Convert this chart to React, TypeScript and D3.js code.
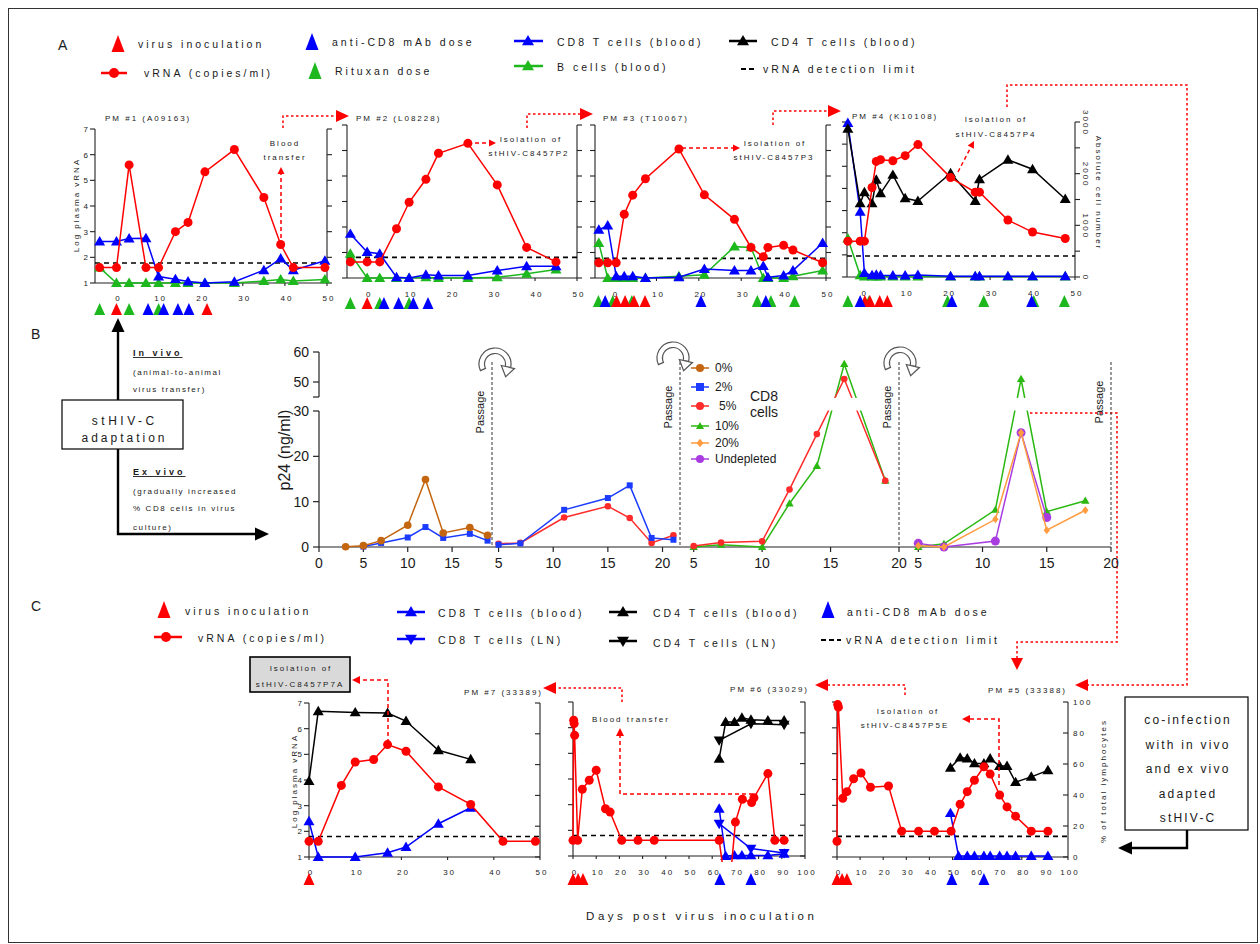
import React from "react";
import * as d3 from "d3";

const FONT = "'Liberation Sans', Arial, Helvetica, sans-serif";
const RED = "#ff0000";
const BLUE = "#0000ff";
const GREEN = "#1db81d";
const INK = "#1a1a1a";

type Pt = [number, number];
type Shape = "circle" | "tri" | "triDown" | "square" | "diamond";
const zip = (xs: number[], ys: number[]): Pt[] => xs.map((x, i) => [x, ys[i]] as Pt);

// ---------------- Panel A: in vivo passage (PM #1 - #4) ----------------
const aDayTicks = [0, 10, 20, 30, 40, 50];
const logTicks7 = [1, 2, 3, 4, 5, 6, 7];
const logTicks8 = [1, 2, 3, 4, 5, 6, 7, 8];
const cellTicks = [0, 500, 1000, 1500, 2000, 2500, 3000];
const cellLabels = [0, 1000, 2000, 3000];

const pm1Days = [-4, 0, 3, 7, 10, 14, 17, 21, 28, 35, 39, 42, 49.5];
const pm1Vrna = [1.6, 1.6, 5.6, 1.6, 1.6, 3.0, 3.36, 5.33, 6.2, 4.33, 2.5, 1.6, 1.6];
const pm1Cd8 = [2.62, 2.62, 2.73, 2.74, 1.25, 1.15, 1.06, 1.0, 1.05, 1.5, 1.95, 1.5, 1.87];
const pm1Bcell = [1.6, 1.0, 1.0, 1.0, 1.0, 1.0, 1.0, 1.0, 1.0, 1.08, 1.14, 1.08, 1.14];
const pm1Inoc = [0, 21.5];
const pm1Cd8Dose = [7.5, 11.2, 14.6, 17.2];
const pm1Rituxan = [-4, 3, 10];

const pm2Days = [-4, 0, 3, 7, 10, 14, 17, 24, 31, 38, 45];
const pm2Vrna = [1.63, 1.63, 1.63, 2.93, 3.97, 4.87, 5.89, 6.28, 4.65, 2.2, 1.63];
const pm2Cd8 = [2.73, 2.02, 1.95, 1.03, 1.0, 1.13, 1.1, 1.1, 1.29, 1.46, 1.46];
const pm2Bcell = [1.95, 1, 1, 1, 1, 1.03, 1, 1, 1.03, 1.17, 1.33];
const pm2Inoc = [0];
const pm2Cd8Dose = [4, 7.5, 11, 14.5];
const pm2Rituxan = [-4, 3, 10];

const pm3Days = [-3.6, -1.5, 0.5, 2.4, 4.4, 7.4, 15.3, 21.3, 28.4, 32.3, 35.2, 36.3, 40, 42.2, 49.2];
const pm3Vrna = [1.6, 1.6, 1.6, 3.5, 4.25, 4.89, 6.06, 4.26, 3.3, 2.2, 1.83, 2.2, 2.28, 2.1, 1.6];
const pm3Cd8 = [2.89, 3.06, 1.07, 1.07, 1.07, 1.0, 1.03, 1.35, 1.29, 1.29, 1.47, 1.03, 1.1, 1.29, 2.37];
const pm3Bcell = [2.37, 1, 1, 1, 1, 1, 1.07, 1.13, 2.23, 2.2, 1, 1, 1, 1.07, 1.29];
const pm3Inoc = [0.6, 2.6, 4.7, 7.3];
const pm3Cd8Dose = [-2.1, 20.5, 35.8];
const pm3Rituxan = [-3.7, -0.3, 4.2, 33.8, 37, 42.6];

const pm4Days = [-3.5, -0.6, 0.4, 2.2, 3.2, 4.2, 7.1, 10, 13, 20.7, 26.5, 27.5, 34.2, 40, 47.7];
const pm4Vrna = [2.62, 2.62, 2.62, 5.04, 6.22, 6.3, 6.25, 6.48, 6.98, 5.49, 4.83, 4.83, 3.57, 3.03, 2.74];
const pm4Cd4 = [2870, 1425, 1640, 1425, 1880, 1620, 1976, 1523, 1470, 2008, 1470, 1892, 2268, 2086, 1510];
const pm4Cd8 = [2980, 1263, 78, 32, 45, 32, 30, 30, 40, 15, 15, 15, 15, 15, 15];
const pm4Bcell = [745, 32, 10, 10, 10, 10, 10, 10, 10, 10, 10, 10, 10, 10, 10];
const pm4Inoc = [0.5, 1.7, 4, 5.8];
const pm4Cd8Dose = [-0.6, 21, 39.8];
const pm4Rituxan = [-3.5, 1.5, 20, 28.5, 40.3, 47.5];

// ---------------- Panel B: ex vivo passage (p24, ng/ml) ----------------
const p24LowTicks = [0, 10, 20, 30];
const p24HighTicks = [50, 60];
const bFirstTicks = [0, 5, 10, 15];
const bTicks = [5, 10, 15, 20];

const b1Days = [3, 5, 7, 10, 12, 14, 17, 19];
const b1Cd8Pct0 = [0.07, 0.3, 1.4, 4.8, 14.9, 3.1, 4.3, 2.6];
const b1DaysPct2 = [5, 7, 10, 12, 14, 17, 19];
const b1Cd8Pct2 = [0.1, 0.9, 2.1, 4.4, 2.0, 2.9, 1.4];

const b2Days = [5, 7, 11, 15, 17, 19, 21];
const b2Cd8Pct2 = [0.5, 0.8, 8.2, 10.8, 13.6, 2.0, 1.6];
const b2Cd8Pct5 = [0.7, 0.9, 6.5, 9.0, 6.4, 0.9, 2.6];

const b3Days = [5, 7, 10, 12, 14, 16, 19];
const b3Cd8Pct5 = [0.2, 1.0, 1.25, 12.7, 24.9, 51, 14.6];
const b3Cd8Pct10 = [0, 0.5, 0, 9.6, 17.9, 56, 14.6];

const b4Days = [5, 7, 11, 13, 15, 18];
const b4Cd8Pct10 = [0, 0.7, 8.2, 51, 7.8, 10.2];
const b4Cd8Pct20 = [0.3, 0, 6.1, 25.2, 3.7, 8.1];
const b4DaysUndepleted = [5, 7, 11, 13, 15];
const b4Undepleted = [0.8, 0, 1.3, 25.2, 6.5];

const bLegendLabels = ["0%", "2%", "5%", "10%", "20%", "Undepleted"];

// ---------------- Panel C: co-infection (PM #7, #6, #5) ----------------
const c50Ticks = [0, 10, 20, 30, 40, 50];
const c100Ticks = [0, 10, 20, 30, 40, 50, 60, 70, 80, 90, 100];
const pctTicks = [0, 20, 40, 60, 80, 100];

const pm7Days = [0, 2, 7, 10, 14, 17, 21, 28, 35, 42, 49];
const pm7Vrna = [1.61, 1.61, 3.79, 4.7, 4.8, 5.38, 5.12, 3.73, 3.05, 1.61, 1.61];
const pm7CellDays = [0, 2, 10, 17, 21, 28, 35];
const pm7Cd4 = [49.4, 94.6, 93.9, 93.5, 88.3, 69.3, 63.4];
const pm7Cd8 = [23.2, 0, 0, 2.8, 6.5, 21.6, 32];
const pm7Inoc = [0];

const pm6Days = [0, 0.3, 0.5, 0.7, 2, 4, 7, 10, 14, 16, 21, 28, 35, 63, 65, 68, 70, 73, 77, 78, 84, 87, 91];
const pm6Vrna = [1.61, 6.29, 6.16, 5.7, 1.61, 3.6, 3.95, 4.34, 2.84, 2.71, 1.61, 1.61, 1.61, 1.61, 0.3, 0.3, 2.32, 3.21, 3.08, 3.27, 4.21, 1.61, 1.61];
const pm6BloodDays = [63, 65.8, 69.6, 72.8, 76.7, 84, 91];
const pm6Cd4Blood = [63.2, 87, 87, 89.8, 88.5, 88, 88];
const pm6Cd8Blood = [30.7, 0, 0.4, 0.4, 0.4, 0.4, 1.5];
const pm6LnDays = [63, 76.7, 91];
const pm6Cd4Ln = [75.1, 85.9, 85.3];
const pm6Cd8Ln = [21, 4.8, 1.9];
const pm6Inoc = [0, 2.2, 4.3];
const pm6Cd8Dose = [63.3, 76.7];

const pm5Days = [0, 0.3, 0.6, 2.5, 4.3, 7.2, 10.4, 14.5, 22.3, 28, 35.3, 42.2, 49.4, 53.3, 56.4, 59.5, 63.6, 66.3, 70.4, 73.6, 77.3, 84.1, 91.3];
const pm5Vrna = [1.61, 6.9, 6.8, 3.27, 3.53, 4.03, 4.25, 3.7, 3.75, 2.0, 2.0, 2.0, 2.0, 3.04, 3.53, 3.97, 4.49, 4.21, 3.4, 2.94, 2.58, 2.0, 2.0];
const pm5Cd4Days = [49.1, 53.3, 56.4, 59.5, 63.6, 66.3, 70.4, 73.6, 77.3, 84.1, 91.3];
const pm5Cd4 = [57.6, 64.1, 63.5, 60.4, 60.4, 63.5, 58.7, 58.7, 48.3, 51.7, 55.9];
const pm5Cd8Days = [49.1, 52.6, 56.4, 59.5, 63.6, 66.3, 70.4, 73.6, 77.3, 84.1, 91.3];
const pm5Cd8 = [28.3, 0.65, 0.65, 0.65, 0.65, 0.65, 0.65, 0.65, 0.65, 0.65, 0.65];
const pm5Inoc = [0, 2.2, 4.3];
const pm5Cd8Dose = [49.7, 63.6];

// ---------------- helpers ----------------
function markerPath(shape: Shape, s: number): string {
  switch (shape) {
    case "tri":
      return `M0,${-s}L${s},${s * 0.72}L${-s},${s * 0.72}Z`;
    case "triDown":
      return `M0,${s}L${s},${-s * 0.72}L${-s},${-s * 0.72}Z`;
    case "square":
      return `M${-s},${-s}H${s}V${s}H${-s}Z`;
    case "diamond":
      return `M0,${-s * 1.25}L${s},0L0,${s * 1.25}L${-s},0Z`;
    default:
      return d3.symbol(d3.symbolCircle, Math.PI * s * s)() as string;
  }
}

function Mark({ shape, x, y, s, fill }: { shape: Shape; x: number; y: number; s: number; fill: string }) {
  return <path transform={`translate(${x},${y})`} d={markerPath(shape, s)} fill={fill} />;
}

interface TxtProps {
  x: number;
  y: number;
  size?: number;
  ls?: number;
  anchor?: "start" | "middle" | "end";
  rot?: number;
  bold?: boolean;
  under?: boolean;
  fill?: string;
  children: React.ReactNode;
}

function Txt({ x, y, size = 8, ls = 2, anchor = "start", rot, bold, under, fill = INK, children }: TxtProps) {
  const dx = anchor === "middle" ? ls / 2 : anchor === "end" ? ls : 0;
  return (
    <text
      x={x}
      y={y}
      dx={dx}
      fontSize={size}
      textAnchor={anchor}
      fill={fill}
      fontWeight={bold ? "bold" : "normal"}
      transform={rot ? `rotate(${rot},${x},${y})` : undefined}
      style={{ letterSpacing: `${ls}px`, textDecoration: under ? "underline" : undefined }}
    >
      {children}
    </text>
  );
}

function Arrow({
  pts,
  color = RED,
  dash,
  w = 1.5,
  len = 8,
  half = 4,
}: {
  pts: Pt[];
  color?: string;
  dash?: string;
  w?: number;
  len?: number;
  half?: number;
}) {
  const n = pts.length;
  const [tx, ty] = pts[n - 1];
  const [px, py] = pts[n - 2];
  const a = Math.atan2(ty - py, tx - px);
  const bx = tx - Math.cos(a) * len;
  const by = ty - Math.sin(a) * len;
  const body = [...pts.slice(0, n - 1), [bx, by]];
  const nx = -Math.sin(a) * half;
  const ny = Math.cos(a) * half;
  return (
    <g>
      <polyline
        points={body.map((p) => p.join(",")).join(" ")}
        fill="none"
        stroke={color}
        strokeWidth={w}
        strokeDasharray={dash}
      />
      <path d={`M${tx},${ty}L${bx + nx},${by + ny}L${bx - nx},${by - ny}Z`} fill={color} />
    </g>
  );
}

type Scale = d3.ScaleLinear<number, number>;

function Series({
  pts,
  sx,
  sy,
  color,
  shape,
  s,
  w = 1.5,
}: {
  pts: Pt[];
  sx: Scale;
  sy: Scale;
  color: string;
  shape: Shape;
  s: number;
  w?: number;
}) {
  const line = d3
    .line<Pt>()
    .x((d) => sx(d[0]))
    .y((d) => sy(d[1]));
  return (
    <g>
      <path d={line(pts) ?? ""} fill="none" stroke={color} strokeWidth={w} />
      {pts.map((p, i) => (
        <Mark key={i} shape={shape} x={sx(p[0])} y={sy(p[1])} s={s} fill={color} />
      ))}
    </g>
  );
}

function DoseTri({ x, y, color }: { x: number; y: number; color: string }) {
  return <path d={`M${x},${y - 7}L${x + 5.5},${y + 5}L${x - 5.5},${y + 5}Z`} fill={color} />;
}

function BigTri({ x, y, color }: { x: number; y: number; color: string }) {
  return <path d={`M${x},${y - 9}L${x + 6.5},${y + 8}L${x - 6.5},${y + 8}Z`} fill={color} />;
}

interface SeriesDef {
  pts: Pt[];
  color: string;
  shape: Shape;
  right?: boolean;
  s?: number;
}
interface DoseDef {
  days: number[];
  color: string;
}
interface SubDef {
  id: string;
  box: [number, number, number, number];
  xDomain: [number, number];
  yDomain: [number, number];
  rDomain: [number, number];
  xTicks: number[];
  yTicks: number[];
  rTicks: number[];
  yLabels: boolean;
  rLabels: number[];
  rRotate: boolean;
  rInward: boolean;
  limit: number;
  series: SeriesDef[];
  doses: DoseDef[];
  doseY: number;
  labelY: number;
}

function Sub({ d }: { d: SubDef }) {
  const [left, top, right, bottom] = d.box;
  const sx = d3.scaleLinear().domain(d.xDomain).range([left, right]);
  const sy = d3.scaleLinear().domain(d.yDomain).range([bottom, top]);
  const sr = d3.scaleLinear().domain(d.rDomain).range([bottom, top]);
  const rt = d.rInward ? -5 : 5;
  const ax = { stroke: "#222", strokeWidth: 1.1 };
  return (
    <g>
      <defs>
        <clipPath id={`clip-${d.id}`}>
          <rect x={left - 8} y={top - 10} width={right - left + 16} height={bottom - top + 16} />
        </clipPath>
      </defs>
      <line x1={left} x2={left} y1={top} y2={bottom} {...ax} />
      {d.yTicks.map((t) => (
        <line key={`yt${t}`} x1={left - 5} x2={left} y1={sy(t)} y2={sy(t)} {...ax} />
      ))}
      {d.yLabels &&
        d.yTicks.map((t) => (
          <Txt key={`yl${t}`} x={left - 7} y={sy(t) + 3} anchor="end">
            {t}
          </Txt>
        ))}
      <line x1={right} x2={right} y1={top} y2={bottom} {...ax} />
      {d.rTicks.map((t) => (
        <line key={`rt${t}`} x1={right} x2={right + rt} y1={sr(t)} y2={sr(t)} {...ax} />
      ))}
      {d.rLabels.map((t) =>
        d.rRotate ? (
          <Txt key={`rl${t}`} x={right + 8} y={sr(t)} anchor="middle" rot={90}>
            {t}
          </Txt>
        ) : (
          <Txt key={`rl${t}`} x={right + 5} y={sr(t) + 3}>
            {t}
          </Txt>
        )
      )}
      <line x1={left} x2={right} y1={bottom} y2={bottom} {...ax} />
      {d.xTicks.map((t) => (
        <g key={`xt${t}`}>
          <line x1={sx(t)} x2={sx(t)} y1={bottom} y2={bottom + 3} {...ax} />
          <Txt x={sx(t) + 1} y={d.labelY} anchor="middle">
            {t}
          </Txt>
        </g>
      ))}
      <line
        x1={left}
        x2={right}
        y1={sy(d.limit)}
        y2={sy(d.limit)}
        stroke="#000"
        strokeWidth={1.6}
        strokeDasharray="5,4"
      />
      <g clipPath={`url(#clip-${d.id})`}>
        {d.series.map((s, i) => (
          <Series
            key={i}
            pts={s.pts}
            sx={sx}
            sy={s.right ? sr : sy}
            color={s.color}
            shape={s.shape}
            s={s.s ?? (s.shape === "circle" ? 4.5 : 5.5)}
          />
        ))}
      </g>
      {d.doses.map((g, gi) =>
        g.days.map((day, i) => <DoseTri key={`d${gi}-${i}`} x={sx(day)} y={d.doseY} color={g.color} />)
      )}
    </g>
  );
}

const subsA: SubDef[] = [
  {
    id: "pm1",
    box: [95, 129, 327, 283],
    xDomain: [-5.1, 50],
    yDomain: [1, 7],
    rDomain: [1, 7],
    xTicks: aDayTicks,
    yTicks: logTicks7,
    rTicks: logTicks7,
    yLabels: true,
    rLabels: [],
    rRotate: false,
    rInward: false,
    limit: 1.78,
    series: [
      { pts: zip(pm1Days, pm1Bcell), color: GREEN, shape: "tri" },
      { pts: zip(pm1Days, pm1Cd8), color: BLUE, shape: "tri" },
      { pts: zip(pm1Days, pm1Vrna), color: RED, shape: "circle" },
    ],
    doses: [
      { days: pm1Rituxan, color: GREEN },
      { days: pm1Inoc, color: RED },
      { days: pm1Cd8Dose, color: BLUE },
    ],
    doseY: 310,
    labelY: 301,
  },
  {
    id: "pm2",
    box: [347, 125, 577, 278],
    xDomain: [-4.8, 50],
    yDomain: [1, 7],
    rDomain: [1, 7],
    xTicks: aDayTicks,
    yTicks: logTicks7,
    rTicks: logTicks7,
    yLabels: false,
    rLabels: [],
    rRotate: false,
    rInward: false,
    limit: 1.81,
    series: [
      { pts: zip(pm2Days, pm2Bcell), color: GREEN, shape: "tri" },
      { pts: zip(pm2Days, pm2Cd8), color: BLUE, shape: "tri" },
      { pts: zip(pm2Days, pm2Vrna), color: RED, shape: "circle" },
    ],
    doses: [
      { days: pm2Rituxan, color: GREEN },
      { days: pm2Inoc, color: RED },
      { days: pm2Cd8Dose, color: BLUE },
    ],
    doseY: 304,
    labelY: 297,
  },
  {
    id: "pm3",
    box: [595, 125, 826, 278],
    xDomain: [-4.5, 50],
    yDomain: [1, 7],
    rDomain: [1, 7],
    xTicks: aDayTicks,
    yTicks: logTicks7,
    rTicks: logTicks7,
    yLabels: false,
    rLabels: [],
    rRotate: false,
    rInward: false,
    limit: 1.77,
    series: [
      { pts: zip(pm3Days, pm3Bcell), color: GREEN, shape: "tri" },
      { pts: zip(pm3Days, pm3Cd8), color: BLUE, shape: "tri" },
      { pts: zip(pm3Days, pm3Vrna), color: RED, shape: "circle" },
    ],
    doses: [
      { days: pm3Rituxan, color: GREEN },
      { days: pm3Inoc, color: RED },
      { days: pm3Cd8Dose, color: BLUE },
    ],
    doseY: 302,
    labelY: 297,
  },
  {
    id: "pm4",
    box: [847, 122, 1075, 277],
    xDomain: [-3.7, 50],
    yDomain: [1, 8],
    rDomain: [0, 3000],
    xTicks: aDayTicks,
    yTicks: logTicks8,
    rTicks: cellTicks,
    yLabels: false,
    rLabels: cellLabels,
    rRotate: true,
    rInward: false,
    limit: 1.95,
    series: [
      { pts: zip(pm4Days, pm4Bcell), color: GREEN, shape: "tri", right: true },
      { pts: zip(pm4Days, pm4Cd8), color: BLUE, shape: "tri", right: true },
      { pts: zip(pm4Days, pm4Cd4), color: "#000", shape: "tri", right: true },
      { pts: zip(pm4Days, pm4Vrna), color: RED, shape: "circle" },
    ],
    doses: [
      { days: pm4Rituxan, color: GREEN },
      { days: pm4Inoc, color: RED },
      { days: pm4Cd8Dose, color: BLUE },
    ],
    doseY: 302,
    labelY: 296,
  },
];

const subsC: SubDef[] = [
  {
    id: "pm7",
    box: [309, 703, 540, 857],
    xDomain: [0, 50],
    yDomain: [1, 7],
    rDomain: [0, 100],
    xTicks: c50Ticks,
    yTicks: logTicks7,
    rTicks: pctTicks,
    yLabels: true,
    rLabels: [],
    rRotate: false,
    rInward: true,
    limit: 1.8,
    series: [
      { pts: zip(pm7CellDays, pm7Cd8), color: BLUE, shape: "tri", right: true },
      { pts: zip(pm7CellDays, pm7Cd4), color: "#000", shape: "tri", right: true },
      { pts: zip(pm7Days, pm7Vrna), color: RED, shape: "circle" },
    ],
    doses: [{ days: pm7Inoc, color: RED }],
    doseY: 880,
    labelY: 875,
  },
  {
    id: "pm6",
    box: [573, 702, 805, 856],
    xDomain: [0, 100],
    yDomain: [1, 7],
    rDomain: [0, 100],
    xTicks: c100Ticks,
    yTicks: logTicks7,
    rTicks: pctTicks,
    yLabels: false,
    rLabels: [],
    rRotate: false,
    rInward: true,
    limit: 1.8,
    series: [
      { pts: zip(pm6LnDays, pm6Cd8Ln), color: BLUE, shape: "triDown", right: true },
      { pts: zip(pm6BloodDays, pm6Cd8Blood), color: BLUE, shape: "tri", right: true },
      { pts: zip(pm6LnDays, pm6Cd4Ln), color: "#000", shape: "triDown", right: true },
      { pts: zip(pm6BloodDays, pm6Cd4Blood), color: "#000", shape: "tri", right: true },
      { pts: zip(pm6Days, pm6Vrna), color: RED, shape: "circle" },
    ],
    doses: [
      { days: pm6Inoc, color: RED },
      { days: pm6Cd8Dose, color: BLUE },
    ],
    doseY: 880,
    labelY: 875,
  },
  {
    id: "pm5",
    box: [837, 702, 1068, 857],
    xDomain: [0, 100],
    yDomain: [1, 7],
    rDomain: [0, 100],
    xTicks: c100Ticks,
    yTicks: logTicks7,
    rTicks: pctTicks,
    yLabels: false,
    rLabels: pctTicks,
    rRotate: false,
    rInward: true,
    limit: 1.8,
    series: [
      { pts: zip(pm5Cd8Days, pm5Cd8), color: BLUE, shape: "tri", right: true },
      { pts: zip(pm5Cd4Days, pm5Cd4), color: "#000", shape: "tri", right: true },
      { pts: zip(pm5Days, pm5Vrna), color: RED, shape: "circle" },
    ],
    doses: [
      { days: pm5Inoc, color: RED },
      { days: pm5Cd8Dose, color: BLUE },
    ],
    doseY: 880,
    labelY: 875,
  },
];

// ---------------- Panel B ----------------
const bBrown = "#c4650f";
const bBlue = "#1b3cff";
const bRed = "#ff2b2b";
const bGreen = "#2ab811";
const bOrange = "#ff9c40";
const bPurple = "#a93ce0";

function PassageArrow({ cx, cy }: { cx: number; cy: number }) {
  const rIn = 10.5;
  const rOut = 16;
  const a0 = -2.0;
  const a1 = 1.8;
  const band = d3.arc()({ innerRadius: rIn, outerRadius: rOut, startAngle: a0, endAngle: a1 } as any) as string;
  const pt = (r: number, a: number): Pt => [r * Math.sin(a), -r * Math.cos(a)];
  const [mx, my] = pt((rIn + rOut) / 2, a1);
  const tip: Pt = [mx + Math.cos(a1) * 10, my + Math.sin(a1) * 10];
  const b1 = pt(rIn - 4, a1);
  const b2 = pt(rOut + 4, a1);
  return (
    <g transform={`translate(${cx},${cy})`}>
      <path d={band} fill="#fff" stroke="#555" strokeWidth={1.2} />
      <path d={`M${b1.join(",")}L${tip.join(",")}L${b2.join(",")}Z`} fill="#fff" stroke="#555" strokeWidth={1.2} />
    </g>
  );
}

function PanelB() {
  const py = d3.scaleLinear().domain([0, 30, 45, 60]).range([547, 411, 397, 352]);
  const x1 = d3.scaleLinear().domain([0, 19.5]).range([319, 492]);
  const x2 = d3.scaleLinear().domain([4.4, 21.6]).range([492, 680]);
  const x3 = d3.scaleLinear().domain([4, 20]).range([680, 899]);
  const x4 = d3.scaleLinear().domain([3.5, 20]).range([899, 1111]);
  const axes = [
    { sx: x1, ticks: bFirstTicks },
    { sx: x2, ticks: bTicks },
    { sx: x3, ticks: bTicks },
    { sx: x4, ticks: bTicks },
  ];
  const passageX = [x1(19.5), x2(21.6), x3(20), x4(20)];
  const passageLabelY = [412, 407, 407, 402];
  const ax = { stroke: "#222", strokeWidth: 1.2 };
  const legendColors = [bBrown, bBlue, bRed, bGreen, bOrange, bPurple];
  const legendShapes: Shape[] = ["circle", "square", "circle", "tri", "diamond", "circle"];
  const legendY = [368, 387, 406, 426, 443, 459];
  const legendTextX = [715, 715, 719, 715, 715, 715];
  return (
    <g>
      {/* y axis with break */}
      <line x1={319} x2={319} y1={py(60)} y2={py(45)} {...ax} />
      <line x1={319} x2={319} y1={py(30)} y2={py(0)} {...ax} />
      <line x1={313} x2={319} y1={py(45)} y2={py(45)} {...ax} />
      {[...p24HighTicks, ...p24LowTicks].map((t) => (
        <g key={`p${t}`}>
          <line x1={313} x2={319} y1={py(t)} y2={py(t)} {...ax} />
          <Txt x={309} y={py(t) + 5} size={14} ls={0} anchor="end">
            {t}
          </Txt>
        </g>
      ))}
      <Txt x={290} y={450} size={16} ls={0} anchor="middle" rot={-90}>
        p24 (ng/ml)
      </Txt>
      {/* x axes */}
      <line x1={319} x2={1111} y1={547} y2={547} {...ax} />
      {axes.map((a, ai) =>
        a.ticks.map((t) => (
          <g key={`bx${ai}-${t}`}>
            <line x1={a.sx(t)} x2={a.sx(t)} y1={547} y2={552} {...ax} />
            <Txt x={a.sx(t)} y={568} size={14} ls={0} anchor="middle">
              {t}
            </Txt>
          </g>
        ))
      )}
      {/* series */}
      <Series pts={zip(b1DaysPct2, b1Cd8Pct2)} sx={x1} sy={py} color={bBlue} shape="square" s={3} />
      <Series pts={zip(b1Days, b1Cd8Pct0)} sx={x1} sy={py} color={bBrown} shape="circle" s={3.8} />
      <Series pts={zip(b2Days, b2Cd8Pct5)} sx={x2} sy={py} color={bRed} shape="circle" s={3.3} />
      <Series pts={zip(b2Days, b2Cd8Pct2)} sx={x2} sy={py} color={bBlue} shape="square" s={3} />
      <Series pts={zip(b3Days, b3Cd8Pct10)} sx={x3} sy={py} color={bGreen} shape="tri" s={4.2} />
      <Series pts={zip(b3Days, b3Cd8Pct5)} sx={x3} sy={py} color={bRed} shape="circle" s={3.3} />
      <Series pts={zip(b4Days, b4Cd8Pct10)} sx={x4} sy={py} color={bGreen} shape="tri" s={4.2} />
      <Series pts={zip(b4DaysUndepleted, b4Undepleted)} sx={x4} sy={py} color={bPurple} shape="circle" s={4.5} />
      <Series pts={zip(b4Days, b4Cd8Pct20)} sx={x4} sy={py} color={bOrange} shape="diamond" s={3.2} />
      {/* axis break gap */}
      <rect x={320} y={py(44)} width={792} height={py(30.5) - py(44)} fill="#fff" />
      {/* passages */}
      {passageX.map((px, i) => (
        <g key={`pass${i}`}>
          <line x1={px} x2={px} y1={362} y2={547} stroke="#333" strokeWidth={1} strokeDasharray="3,2" />
          <Txt x={px - 8} y={passageLabelY[i]} size={11} ls={0} anchor="middle" rot={-90}>
            Passage
          </Txt>
        </g>
      ))}
      <PassageArrow cx={495} cy={364} />
      <PassageArrow cx={673} cy={358} />
      <PassageArrow cx={900} cy={363} />
      {/* legend */}
      {bLegendLabels.map((lab, i) => (
        <g key={`bl${i}`}>
          <line x1={691} x2={709} y1={legendY[i]} y2={legendY[i]} stroke={legendColors[i]} strokeWidth={1.5} />
          <Mark shape={legendShapes[i]} x={700} y={legendY[i]} s={legendShapes[i] === "diamond" ? 3.4 : 4} fill={legendColors[i]} />
          <Txt x={legendTextX[i]} y={legendY[i] + 4} size={12} ls={0}>
            {lab}
          </Txt>
        </g>
      ))}
      <Txt x={750} y={401} size={14} ls={0}>
        CD8
      </Txt>
      <Txt x={750} y={417} size={14} ls={0}>
        cells
      </Txt>
    </g>
  );
}

export default function App() {
  const legendTxt = { size: 10.5, ls: 3 };
  return (
    <svg
      width={1260}
      height={944}
      fontFamily={FONT}
      style={{ position: "fixed", left: 0, top: 0, background: "#fff" }}
    >
      <rect x={0} y={0} width={1260} height={944} fill="#fff" />
      <rect x={8.5} y={8.5} width={1249} height={934} fill="none" stroke="#333" strokeWidth={1} />

      {/* ---------- Panel A ---------- */}
      <Txt x={58} y={50} size={14} ls={0}>A</Txt>
      <BigTri x={118} y={44} color={RED} />
      <Txt x={138} y={48} {...legendTxt}>virus inoculation</Txt>
      <line x1={101} x2={127} y1={73} y2={73} stroke={RED} strokeWidth={2.5} />
      <Mark shape="circle" x={114} y={73} s={5} fill={RED} />
      <Txt x={144} y={77} {...legendTxt}>vRNA (copies/ml)</Txt>
      <BigTri x={312} y={42} color={BLUE} />
      <Txt x={332} y={46} {...legendTxt}>anti-CD8 mAb dose</Txt>
      <BigTri x={315} y={71} color={GREEN} />
      <Txt x={335} y={75} {...legendTxt}>Rituxan dose</Txt>
      <line x1={514} x2={543} y1={41} y2={41} stroke={BLUE} strokeWidth={2.5} />
      <Mark shape="tri" x={528} y={41} s={6} fill={BLUE} />
      <Txt x={557} y={46} {...legendTxt}>CD8 T cells (blood)</Txt>
      <line x1={514} x2={543} y1={66} y2={66} stroke={GREEN} strokeWidth={2.5} />
      <Mark shape="tri" x={528} y={66} s={6} fill={GREEN} />
      <Txt x={557} y={71} {...legendTxt}>B cells (blood)</Txt>
      <line x1={729} x2={757} y1={41} y2={41} stroke="#000" strokeWidth={2.5} />
      <Mark shape="tri" x={743} y={41} s={6} fill="#000" />
      <Txt x={771} y={46} {...legendTxt}>CD4 T cells (blood)</Txt>
      <line x1={741} x2={757} y1={69} y2={69} stroke="#000" strokeWidth={2} strokeDasharray="5,3" />
      <Txt x={763} y={73} {...legendTxt}>vRNA detection limit</Txt>

      {subsA.map((d) => (
        <Sub key={d.id} d={d} />
      ))}
      <Txt x={79} y={206} anchor="middle" rot={-90}>Log plasma vRNA</Txt>
      <Txt x={1096} y={192} anchor="middle" rot={90}>Absolute cell number</Txt>
      <Txt x={105} y={121}>PM #1 (A09163)</Txt>
      <Txt x={356} y={121}>PM #2 (L08228)</Txt>
      <Txt x={603} y={121}>PM #3 (T10067)</Txt>
      <Txt x={852} y={119}>PM #4 (K10108)</Txt>

      <Txt x={284} y={146} anchor="middle">Blood</Txt>
      <Txt x={284} y={160} anchor="middle">transfer</Txt>
      <Arrow pts={[[281, 238], [281, 167]]} dash="4,3" len={7} half={3.5} />
      <Txt x={530} y={142} anchor="middle">Isolation of</Txt>
      <Txt x={528} y={156} anchor="middle">stHIV-C8457P2</Txt>
      <Arrow pts={[[475, 143], [496, 143]]} dash="4,3" len={7} half={3.5} />
      <Txt x={774} y={146} anchor="middle">Isolation of</Txt>
      <Txt x={773} y={160} anchor="middle">stHIV-C8457P3</Txt>
      <Arrow pts={[[682, 148], [740, 148]]} dash="4,3" len={7} half={3.5} />
      <Txt x={995} y={122} anchor="middle">Isolation of</Txt>
      <Txt x={995} y={137} anchor="middle">stHIV-C8457P4</Txt>
      <Arrow pts={[[958, 172], [974, 141]]} dash="4,3" len={7} half={3.5} />

      {/* connectors between animals */}
      <Arrow pts={[[283, 128], [283, 116], [349, 116]]} dash="2.5,2.5" len={13} half={6} />
      <Arrow pts={[[527, 128], [527, 114], [593, 114]]} dash="2.5,2.5" len={13} half={6} />
      <Arrow pts={[[773, 125], [773, 111], [841, 111]]} dash="2.5,2.5" len={13} half={6} />
      <Arrow pts={[[1007, 107], [1007, 85], [1187, 85], [1187, 685], [1075, 685]]} dash="2.5,2.5" len={13} half={6} />
      <Arrow pts={[[1030, 413], [1117, 413], [1117, 642], [1017, 642], [1017, 670]]} dash="2.5,2.5" len={12} half={6} />

      {/* ---------- Panel B ---------- */}
      <Txt x={31} y={339} size={14} ls={0}>B</Txt>
      <Arrow pts={[[118, 400], [118, 318]]} color="#000" w={2.4} len={14} half={6.5} />
      <Arrow pts={[[118, 449], [118, 534], [269, 534]]} color="#000" w={2.4} len={14} half={6.5} />
      <rect x={62} y={400} width={121} height={49} fill="#fff" stroke="#000" strokeWidth={1.2} />
      <Txt x={123} y={425} size={12} ls={3.5} anchor="middle">stHIV-C</Txt>
      <Txt x={123} y={442} size={12} ls={3} anchor="middle">adaptation</Txt>
      <Txt x={133} y={356} size={9} ls={3} bold under>In vivo</Txt>
      <Txt x={133} y={375} size={8} ls={1.6}>(animal-to-animal</Txt>
      <Txt x={133} y={392} size={8} ls={1.6}>virus transfer)</Txt>
      <Txt x={133} y={475} size={9} ls={3} bold under>Ex vivo</Txt>
      <Txt x={133} y={494} size={8} ls={1.6}>(gradually increased</Txt>
      <Txt x={133} y={511} size={8} ls={1.6}>% CD8 cells in virus</Txt>
      <Txt x={133} y={530} size={8} ls={1.6}>culture)</Txt>
      <PanelB />

      {/* ---------- Panel C ---------- */}
      <Txt x={31} y={611} size={14} ls={0}>C</Txt>
      <BigTri x={164} y={610} color={RED} />
      <Txt x={185} y={615} {...legendTxt}>virus inoculation</Txt>
      <line x1={154} x2={182} y1={637} y2={637} stroke={RED} strokeWidth={2.5} />
      <Mark shape="circle" x={166} y={637} s={5} fill={RED} />
      <Txt x={198} y={642} {...legendTxt}>vRNA (copies/ml)</Txt>
      <line x1={397} x2={425} y1={612} y2={612} stroke={BLUE} strokeWidth={2.5} />
      <Mark shape="tri" x={411} y={612} s={6} fill={BLUE} />
      <Txt x={438} y={617} {...legendTxt}>CD8 T cells (blood)</Txt>
      <line x1={397} x2={425} y1={639} y2={639} stroke={BLUE} strokeWidth={2.5} />
      <Mark shape="triDown" x={411} y={639} s={6} fill={BLUE} />
      <Txt x={438} y={644} {...legendTxt}>CD8 T cells (LN)</Txt>
      <line x1={609} x2={637} y1={612} y2={612} stroke="#000" strokeWidth={2.5} />
      <Mark shape="tri" x={623} y={612} s={6} fill="#000" />
      <Txt x={653} y={617} {...legendTxt}>CD4 T cells (blood)</Txt>
      <line x1={609} x2={637} y1={641} y2={641} stroke="#000" strokeWidth={2.5} />
      <Mark shape="triDown" x={623} y={641} s={6} fill="#000" />
      <Txt x={653} y={647} {...legendTxt}>CD4 T cells (LN)</Txt>
      <BigTri x={828} y={610} color={BLUE} />
      <Txt x={847} y={616} {...legendTxt}>anti-CD8 mAb dose</Txt>
      <line x1={821} x2={841} y1={640} y2={640} stroke="#000" strokeWidth={2} strokeDasharray="5,3" />
      <Txt x={846} y={644} {...legendTxt}>vRNA detection limit</Txt>

      {subsC.map((d) => (
        <Sub key={d.id} d={d} />
      ))}
      <Txt x={297} y={782} anchor="middle" rot={-90}>Log plasma vRNA</Txt>
      <Txt x={1106} y={782} anchor="middle" rot={-90}>% of total lymphocytes</Txt>
      <Txt x={541} y={695} anchor="end">PM #7 (33389)</Txt>
      <Txt x={807} y={692} anchor="end">PM #6 (33029)</Txt>
      <Txt x={1065} y={693} anchor="end">PM #5 (33388)</Txt>

      <rect x={250} y={657} width={100} height={35} fill="#d9d9d9" stroke="#000" strokeWidth={1.6} />
      <Txt x={300} y={671} anchor="middle">Isolation of</Txt>
      <Txt x={299} y={687} anchor="middle">stHIV-C8457P7A</Txt>
      <Arrow pts={[[388, 743], [388, 680], [352, 680]]} dash="4,3" len={8} half={4} />
      <Txt x={630} y={722} anchor="middle">Blood transfer</Txt>
      <Arrow pts={[[753, 794], [620, 794], [620, 728]]} dash="4,3" len={8} half={4} />
      <Txt x={907} y={714} anchor="middle">Isolation of</Txt>
      <Txt x={904} y={728} anchor="middle">stHIV-C8457P5E</Txt>
      <Arrow pts={[[999, 785], [999, 719], [962, 719]]} dash="4,3" len={8} half={4} />
      <Arrow pts={[[905, 695], [905, 685], [815, 685]]} dash="2.5,2.5" len={13} half={6} />
      <Arrow pts={[[622, 702], [622, 688], [543, 688]]} dash="2.5,2.5" len={13} half={6} />

      <rect x={1125} y={697} width={123} height={133} fill="#fff" stroke="#000" strokeWidth={1.2} />
      <Txt x={1187} y={724} size={12} ls={2.2} anchor="middle">co-infection</Txt>
      <Txt x={1187} y={749} size={12} ls={2.2} anchor="middle">with in vivo</Txt>
      <Txt x={1187} y={773} size={12} ls={2.2} anchor="middle">and ex vivo</Txt>
      <Txt x={1187} y={798} size={12} ls={2.2} anchor="middle">adapted</Txt>
      <Txt x={1187} y={822} size={12} ls={2.2} anchor="middle">stHIV-C</Txt>
      <Arrow pts={[[1187, 830], [1187, 848], [1118, 848]]} color="#000" w={2.4} len={14} half={6.5} />

      <Txt x={700} y={920} size={11.5} ls={3.5} anchor="middle">Days post virus inoculation</Txt>
    </svg>
  );
}
